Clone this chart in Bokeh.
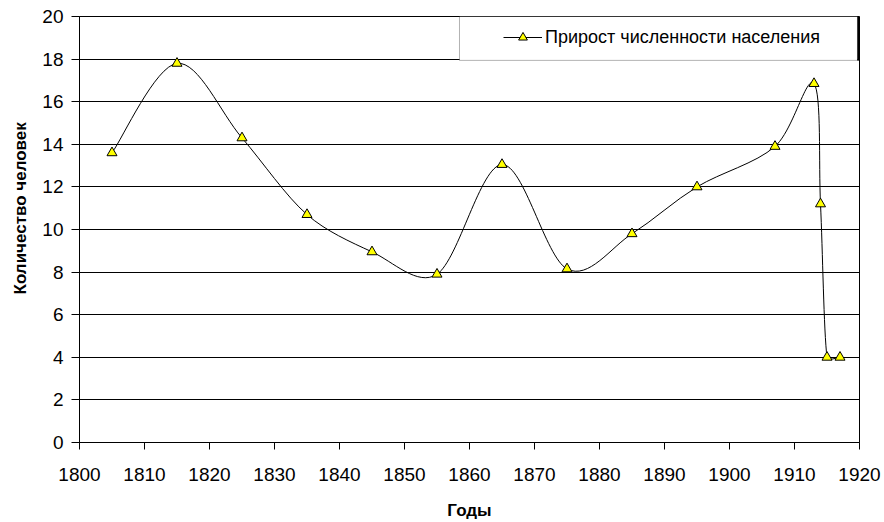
import numpy as np
from bokeh.plotting import figure
from bokeh.models import Range1d, BoxAnnotation, Legend, LegendItem, FixedTicker, Title
from bokeh.embed import file_html
from bokeh.resources import INLINE

# ---- data ----
years = [1805, 1815, 1825, 1835, 1845, 1855, 1865, 1875, 1885, 1895, 1907, 1913, 1914, 1915, 1917]
values = [13.6, 17.8, 14.3, 10.7, 8.95, 7.9, 13.05, 8.15, 9.8, 12.0, 13.9, 16.85, 11.2, 4.0, 4.0]
x_ticks = list(range(1800, 1921, 10))
y_ticks = list(range(0, 21, 2))
series_name = "Прирост численности населения"
x_title = "Годы"
y_title = "Количество человек"

FONT = "Liberation Sans"

p = figure(width=884, height=522, x_range=Range1d(1800, 1920), y_range=Range1d(0, 20),
           output_backend="svg", toolbar_location=None,
           min_border_left=79, min_border_right=25, min_border_top=16, min_border_bottom=79)
p.background_fill_color = "white"
p.border_fill_color = "white"
p.outline_line_color = "black"
p.outline_line_width = 1

# smoothed line (Excel-like Bezier smoothing built from the data points)
ax_px, ay_px = 6.5, 21.35
X = np.array(years, float) * ax_px
Y = np.array(values, float) * ay_px
prevX = np.r_[X[0], X[:-1]]; nextX = np.r_[X[1:], X[-1]]
prevY = np.r_[Y[0], Y[:-1]]; nextY = np.r_[Y[1:], Y[-1]]
dX = (nextX - prevX) / 6.0
dY = (nextY - prevY) / 6.0
x0 = X[:-1]; y0 = Y[:-1]; x1 = X[1:]; y1 = Y[1:]
L = np.hypot(x1 - x0, y1 - y0)
h0 = np.hypot(dX[:-1], dY[:-1]); h1 = np.hypot(dX[1:], dY[1:])
s0 = np.minimum(1.0, (L / 3.0) / np.maximum(h0, 1e-9))
s1 = np.minimum(1.0, (L / 3.0) / np.maximum(h1, 1e-9))
cx0 = x0 + dX[:-1] * s0; cy0 = y0 + dY[:-1] * s0
cx1 = x1 - dX[1:] * s1; cy1 = y1 - dY[1:] * s1
p.bezier(x0=x0 / ax_px, y0=y0 / ay_px, x1=x1 / ax_px, y1=y1 / ay_px,
         cx0=cx0 / ax_px, cy0=cy0 / ay_px, cx1=cx1 / ax_px, cy1=cy1 / ay_px,
         line_color="black", line_width=1)

# legend-only line (no drawn data)
leg_line = p.line(x=[float("nan")], y=[float("nan")], line_color="black", line_width=1)
pts = p.scatter(years, values, marker="triangle", size=10,
                fill_color="#FFFF00", line_color="black", line_width=1)

# axes
p.xaxis.ticker = FixedTicker(ticks=x_ticks)
p.yaxis.ticker = FixedTicker(ticks=y_ticks)
p.xgrid.visible = False
p.ygrid.grid_line_color = "black"
p.ygrid.grid_line_width = 1
for ax in (p.xaxis[0], p.yaxis[0]):
    ax.axis_line_color = "black"
    ax.major_tick_line_color = "black"
    ax.major_tick_in = 0
    ax.minor_tick_in = 0
    ax.minor_tick_out = 0
    ax.major_label_text_font = FONT
    ax.major_label_text_font_size = "19px"
    ax.major_label_text_color = "black"
p.xaxis.major_tick_out = 7
p.yaxis.major_tick_out = 8
p.xaxis.major_label_standoff = 18
p.yaxis.major_label_standoff = 8

p.xaxis.axis_label = x_title
p.xaxis.axis_label_text_font = FONT
p.xaxis.axis_label_text_font_size = "17px"
p.xaxis.axis_label_text_font_style = "bold"
p.xaxis.axis_label_text_color = "black"
p.xaxis.axis_label_standoff = 17

yt = Title(text=y_title, align="left", offset=148, vertical_align="middle", standoff=18,
           text_font=FONT, text_font_size="17px", text_font_style="bold", text_color="black")
p.add_layout(yt, "left")

# legend box
p.add_layout(BoxAnnotation(left=1858.46, right=1919.69, bottom=17.94, top=20,
                           fill_color="white", fill_alpha=1, line_color="black", line_width=1))
p.add_layout(BoxAnnotation(left=1919.69, right=1920, bottom=17.94, top=20,
                           fill_color="black", fill_alpha=1, line_color="black", line_width=1))

legend = Legend(items=[LegendItem(label=series_name, renderers=[leg_line, pts])],
                location=(424, 394), padding=0, margin=0, spacing=0,
                glyph_width=39, glyph_height=22, label_height=22, label_standoff=3,
                background_fill_alpha=0, border_line_alpha=0,
                label_text_font=FONT, label_text_font_size="18px", label_text_color="black")
p.add_layout(legend)

open("out.html", "w").write(file_html(p, INLINE))
